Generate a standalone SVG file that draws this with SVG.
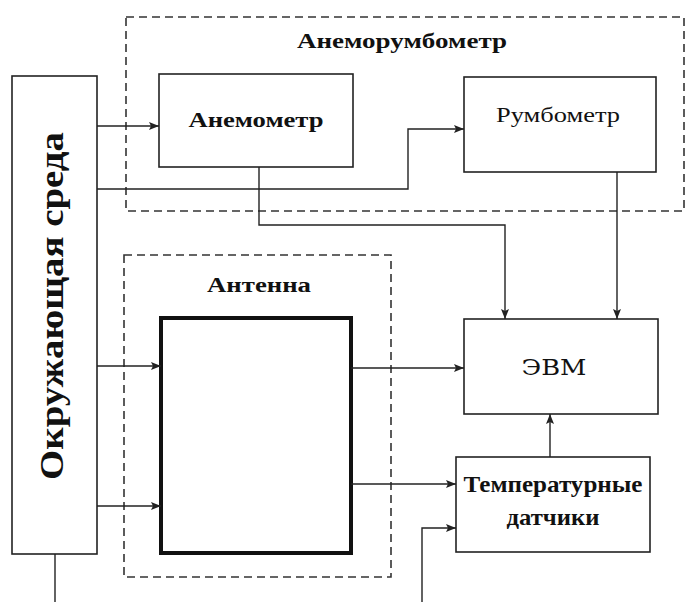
<svg xmlns="http://www.w3.org/2000/svg" width="685" height="602" viewBox="0 0 685 602">
<defs>
<marker id="ah" viewBox="0 0 10 8" refX="10" refY="4" markerWidth="10" markerHeight="8" markerUnits="userSpaceOnUse" orient="auto">
<path d="M0,0 L10,4 L0,8 L2,4 z" fill="#222"/>
</marker>
</defs>
<style>
.box{fill:#fff;stroke:#222;stroke-width:1.6}
.thick{fill:#fff;stroke:#111;stroke-width:4}
.dash{fill:none;stroke:#333;stroke-width:1.6;stroke-dasharray:8 5}
.ln{fill:none;stroke:#222;stroke-width:1.4}
.arr{fill:none;stroke:#222;stroke-width:1.4;marker-end:url(#ah)}
text{font-family:"Liberation Serif","DejaVu Serif",serif;fill:#111;text-anchor:middle}
.b{font-weight:bold}
.r1{font-family:"Liberation Serif";font-weight:400}
.r2{font-family:"DejaVu Serif";font-weight:400}
</style>
<rect width="685" height="602" fill="#fff"/>
<g id="anemorumbometr">
<rect class="dash" x="126" y="17" width="558" height="194"/>
<text class="b" x="402" y="48" font-size="22" textLength="210" lengthAdjust="spacingAndGlyphs">Анеморумбометр</text>
</g>
<g id="antenna-group">
<rect class="dash" x="124" y="255" width="267" height="322"/>
<text class="b" x="259" y="292" font-size="20" textLength="104" lengthAdjust="spacingAndGlyphs">Антенна</text>
</g>
<g id="okr">
<rect class="box" x="12" y="76" width="85" height="478"/>
<text class="b" transform="translate(63,306) rotate(-90)" font-size="34" textLength="348" lengthAdjust="spacingAndGlyphs">Окружающая среда</text>
</g>
<g id="anemometr">
<rect class="box" x="159" y="74" width="194" height="93"/>
<text class="b" x="256" y="127" font-size="21" textLength="135" lengthAdjust="spacingAndGlyphs">Анемометр</text>
</g>
<g id="rumbometr">
<rect class="box" x="464" y="77" width="192" height="95"/>
<text class="r1" x="558" y="122" font-size="22" textLength="124" lengthAdjust="spacingAndGlyphs">Румбометр</text>
</g>
<g id="evm">
<rect class="box" x="464" y="319" width="194" height="95"/>
<text class="r2" x="554" y="375" font-size="23" textLength="65" lengthAdjust="spacingAndGlyphs">ЭВМ</text>
</g>
<g id="antenna">
<rect class="thick" x="161" y="318" width="190" height="235"/>
</g>
<g id="temp">
<rect class="box" x="456" y="457" width="194" height="95"/>
<text class="b" x="553" y="492" font-size="24" textLength="179" lengthAdjust="spacingAndGlyphs">Температурные</text>
<text class="b" x="553" y="525" font-size="24" textLength="93" lengthAdjust="spacingAndGlyphs">датчики</text>
</g>
<g id="connectors">
<path class="arr" d="M97,126 H159"/>
<path class="arr" d="M97,189 H408 V129 H464"/>
<path class="arr" d="M259,167 V225 H505 V319"/>
<path class="arr" d="M617,172 V319"/>
<path class="arr" d="M97,366 H161"/>
<path class="arr" d="M97,506 H161"/>
<path class="arr" d="M351,368 H464"/>
<path class="arr" d="M351,484 H456"/>
<path class="arr" d="M550,457 V414"/>
<path class="arr" d="M422,602 V528 H456"/>
<path class="ln" d="M55,554 V602"/>
</g>
</svg>
